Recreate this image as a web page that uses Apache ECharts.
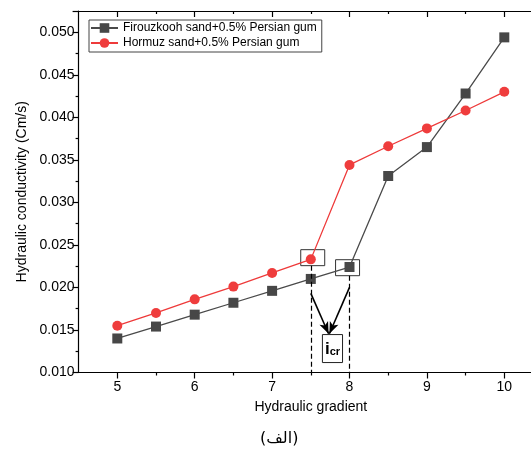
<!DOCTYPE html>
<html>
<head>
<meta charset="utf-8">
<script src="https://cdn.jsdelivr.net/npm/echarts@6/dist/echarts.min.js"></script>
<style>html,body{margin:0;padding:0;background:#fff}#c{width:531px;height:452px}</style>
</head>
<body>
<div id="c"></div>
<script>
// ---- data ----
const gradients = [5, 5.5, 6, 6.5, 7, 7.5, 8, 8.5, 9, 9.5, 10];
const firouzkooh = [0.0140, 0.0154, 0.0168, 0.0182, 0.0196, 0.0210, 0.0224, 0.0331, 0.0365, 0.0428, 0.0494];
const hormuz = [0.0155, 0.0170, 0.0186, 0.0201, 0.0217, 0.0233, 0.0344, 0.0366, 0.0387, 0.0408, 0.0430];
const seriesNames = ['Firouzkooh sand+0.5% Persian gum', 'Hormuz sand+0.5% Persian gum'];
const xMajorTicks = [5, 6, 7, 8, 9, 10];
const xMinorTicks = [5.5, 6.5, 7.5, 8.5, 9.5];
const xName = 'Hydraulic gradient';
const yName = 'Hydraulic conductivity (Cm/s)';
const caption = '(الف)';
// annotation geometry in data units
const boxRed = [[7.37, 0.02444], [7.68, 0.02256]];
const boxGray = [[7.82, 0.02326], [8.13, 0.02138]];
const dashA = [[7.5, 0.02256], [7.5, 0.010]];
const dashB = [[8.0, 0.02138], [8.0, 0.010]];
const arrowA = [[7.5, 0.0193], [7.73, 0.01455]];
const arrowB = [[8.0, 0.0200], [7.74, 0.01455]];
const boxIcr = [[7.65, 0.01446], [7.91, 0.01117]];

const FONT = 'Arial, "Liberation Sans", sans-serif';
const chart = echarts.init(document.getElementById('c'), null, {renderer: 'canvas'});

function toPairs(xs, ys) { return xs.map((x, i) => [x, ys[i]]); }
const seg = (p) => [{coord: p[0]}, {coord: p[1]}];

const baseX = {type: 'value', min: 4.5, max: 10.5, splitLine: {show: false}};
chart.setOption({
  animation: false,
  backgroundColor: '#fff',
  grid: {left: 78.6, width: 464.4, top: 11, bottom: 79.5, outerBoundsMode: 'none', containLabel: false},
  legend: {
    orient: 'vertical', left: 89, top: 20,
    itemWidth: 27, itemHeight: 12, itemGap: 3,
    padding: [2, 5, 3, 1],
    borderColor: '#444', borderWidth: 1,
    textStyle: {fontFamily: FONT, fontSize: 12, color: '#000'},
    data: seriesNames
  },
  xAxis: [
    Object.assign({}, baseX, {
      position: 'bottom',
      name: xName, nameLocation: 'middle', nameGap: 28,
      nameTextStyle: {fontFamily: FONT, fontSize: 14, color: '#000'},
      axisLine: {show: true, lineStyle: {color: '#000', width: 1.2}},
      axisTick: {show: true, inside: false, length: 6, customValues: xMajorTicks, lineStyle: {color: '#000', width: 1.2}},
      axisLabel: {show: true, margin: 8, customValues: xMajorTicks, fontFamily: FONT, fontSize: 14, color: '#000'}
    }),
    Object.assign({}, baseX, {
      position: 'bottom',
      axisLine: {show: false},
      axisTick: {show: true, inside: false, length: 3, customValues: xMinorTicks, lineStyle: {color: '#000', width: 1.2}},
      axisLabel: {show: false}
    }),
    Object.assign({}, baseX, {
      position: 'top',
      axisLine: {show: true, lineStyle: {color: '#000', width: 1.2}},
      axisTick: {show: true, inside: true, length: 6, customValues: xMajorTicks, lineStyle: {color: '#000', width: 1.2}},
      axisLabel: {show: false}
    }),
    Object.assign({}, baseX, {
      position: 'top',
      axisLine: {show: false},
      axisTick: {show: true, inside: true, length: 3, customValues: xMinorTicks, lineStyle: {color: '#000', width: 1.2}},
      axisLabel: {show: false}
    })
  ],
  yAxis: {
    type: 'value', min: 0.010, max: 0.0525, interval: 0.005,
    name: yName, nameLocation: 'middle', nameGap: 48, nameRotate: 90,
    nameTextStyle: {fontFamily: FONT, fontSize: 14, color: '#000'},
    splitLine: {show: false},
    axisLine: {show: true, lineStyle: {color: '#000', width: 1.2}},
    axisTick: {show: true, inside: false, length: 6, lineStyle: {color: '#000', width: 1.2}},
    minorTick: {show: true, splitNumber: 2, length: 3, lineStyle: {color: '#000', width: 1.2}},
    axisLabel: {margin: 4, showMaxLabel: false, fontFamily: FONT, fontSize: 14, color: '#000', formatter: (v) => v.toFixed(3)}
  },
  title: {
    text: caption, left: 255, top: 426,
    textStyle: {fontFamily: '"DejaVu Sans", "Noto Sans", sans-serif', fontSize: 16, fontWeight: 'normal', color: '#000'}
  },
  series: [
    {
      name: seriesNames[0], type: 'line', xAxisIndex: 0,
      data: toPairs(gradients, firouzkooh),
      symbol: 'rect', symbolSize: 10,
      lineStyle: {color: '#4a4a4a', width: 1.3},
      itemStyle: {color: '#474747'},
      z: 3,
      markArea: {
        silent: true,
        itemStyle: {color: 'rgba(0,0,0,0)', borderColor: '#333', borderWidth: 1},
        label: {show: false},
        data: [seg(boxGray), seg(boxRed)]
      },
      markLine: {
        silent: true, symbol: 'none',
        label: {show: false},
        lineStyle: {color: '#000', type: [5, 3], width: 1.2},
        data: [seg(dashA), seg(dashB)]
      }
    },
    {
      name: seriesNames[1], type: 'line', xAxisIndex: 0,
      data: toPairs(gradients, hormuz),
      symbol: 'circle', symbolSize: 10,
      lineStyle: {color: '#ee3a3a', width: 1.3},
      itemStyle: {color: '#ef3d3d'},
      z: 4,
      markLine: {
        silent: true, symbol: ['none', 'arrow'], symbolSize: [7, 12],
        label: {show: false},
        lineStyle: {color: '#000', type: 'solid', width: 1.6},
        data: [seg(arrowA), seg(arrowB)]
      },
      markArea: {
        silent: true,
        itemStyle: {color: '#fff', borderColor: '#222', borderWidth: 1},
        label: {
          show: true, position: 'inside',
          formatter: '{i|i}{cr|cr}',
          rich: {
            i: {fontFamily: FONT, fontSize: 17, fontWeight: 'bold', color: '#000', verticalAlign: 'bottom', lineHeight: 18},
            cr: {fontFamily: FONT, fontSize: 11, fontWeight: 'bold', color: '#000', verticalAlign: 'bottom', lineHeight: 14, padding: [6, 0, 0, 0]}
          }
        },
        data: [seg(boxIcr)]
      }
    }
  ]
});
</script>
</body>
</html>
